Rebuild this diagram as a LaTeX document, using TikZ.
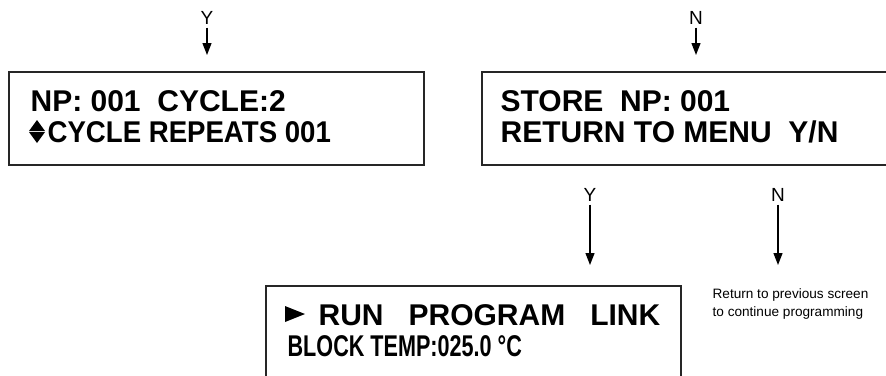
\documentclass[tikz,border=0pt]{standalone}
\usepackage{fontspec}
\setmainfont{Liberation Sans}
\newfontfamily\lcdsnug{Liberation Sans}[FakeStretch=0.92]
\newfontfamily\lcdnarrow{Liberation Sans}[FakeStretch=0.72]
\usetikzlibrary{arrows.meta}
\begin{document}
\begin{tikzpicture}[-{Triangle[width=9pt,length=12pt]}, x=1pt, y=-1pt, line width=1.3pt]
    \tikzset{screen/.style={draw=black!85,rectangle,line width=1.8pt,inner sep=0pt}};
    \tikzset{lcd/.style={anchor=base west,inner sep=0pt,font=\fontsize{30}{31}\selectfont\bfseries}};
    \tikzset{key/.style={inner sep=2.5pt,font=\fontsize{19}{19}\selectfont}};
    \tikzset{note/.style={anchor=north west,inner sep=0pt,align=left,font=\fontsize{13.6}{18}\selectfont}};
    \path[use as bounding box, clip] (0,0) rectangle (886,375);
    % the three screens
    \node[screen, minimum width=415pt, minimum height=93pt] (sCycle) at (216.5,118.5) {};
    \node[screen, minimum width=428pt, minimum height=93pt] (sStore) at (696,118.5) {};
    \node[screen, minimum width=415pt, minimum height=114pt] (sRun) at (473.5,343) {};
    \node[lcd] (tCycleA) at (30,111) {NP: 001\ \ CYCLE:2};
    \node[lcd] (tCycleB) at (47,142) {\lcdsnug\bfseries CYCLE REPEATS 001};
    \node[lcd] (tStoreA) at (500,111) {STORE\ \ NP: 001};
    \node[lcd] (tStoreB) at (500,142) {RETURN TO MENU\ \ Y/N};
    \node[lcd] (tRunA) at (318,325) {RUN\ \ \ PROGRAM\ \ \ LINK};
    \node[lcd] (tRunB) at (287,356) {\lcdnarrow\bfseries BLOCK TEMP:025.0 °C};
    \fill[-] (29,131) -- (37,120) -- (45,131) -- cycle;
    \fill[-] (29,132) -- (45,132) -- (37,143) -- cycle;
    \fill[-] (285,306) -- (305,314) -- (285,322) -- cycle;
    % answers
    \node[key] (kY) at (207,18) {Y};
    \node[key] (kN) at (696,18) {N};
    \node[key] (kYes) at (590,195) {Y};
    \node[key] (kNo) at (778,195) {N};
    \coordinate (eY) at (207,55);
    \coordinate (eN) at (696,55);
    \coordinate (eYes) at (590,265);
    \coordinate (eNo) at (778,265);
    \node[note] (nBack) at (712,288) {Return to previous screen\\to continue programming};
    {
      \path
        (kY) edge (eY)
        (kN) edge (eN)
        (kYes) edge (eYes)
        (kNo) edge (eNo)
        ;
      }
\end{tikzpicture}
\end{document}
